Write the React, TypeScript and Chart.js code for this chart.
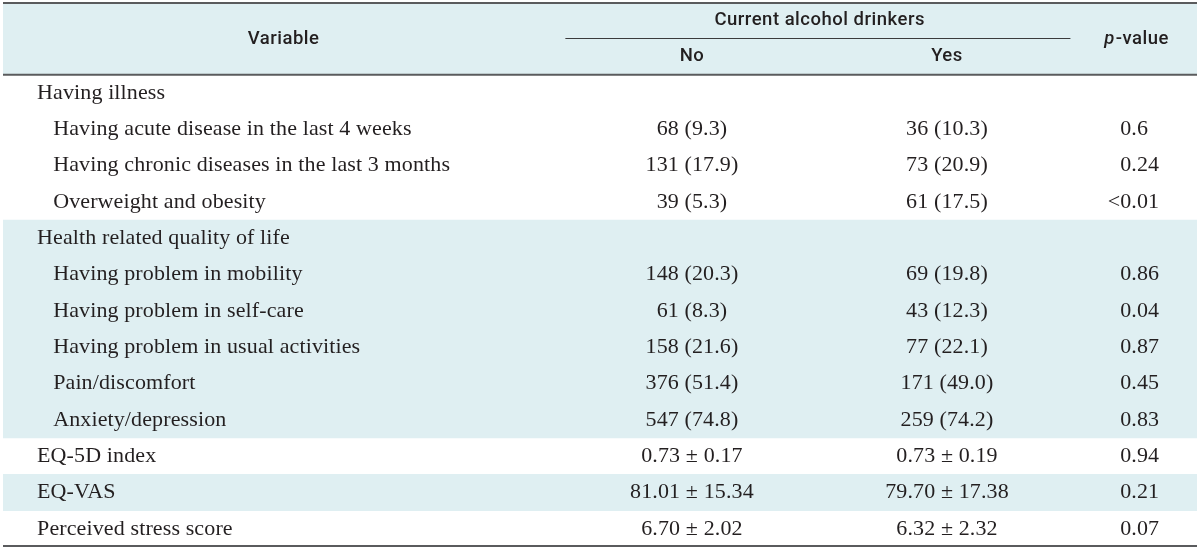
import { useEffect, useRef } from "react";
import { Chart, registerables } from "chart.js";

Chart.register(...registerables);

// ---- Data ----
const variables = [
  "Having illness",
  "Having acute disease in the last 4 weeks",
  "Having chronic diseases in the last 3 months",
  "Overweight and obesity",
  "Health related quality of life",
  "Having problem in mobility",
  "Having problem in self-care",
  "Having problem in usual activities",
  "Pain/discomfort",
  "Anxiety/depression",
  "EQ-5D index",
  "EQ-VAS",
  "Perceived stress score",
];
const levels = [0, 1, 1, 1, 0, 1, 1, 1, 1, 1, 0, 0, 0];
const noValues = [
  "", "68 (9.3)", "131 (17.9)", "39 (5.3)",
  "", "148 (20.3)", "61 (8.3)", "158 (21.6)", "376 (51.4)", "547 (74.8)",
  "0.73 ± 0.17", "81.01 ± 15.34", "6.70 ± 2.02",
];
const yesValues = [
  "", "36 (10.3)", "73 (20.9)", "61 (17.5)",
  "", "69 (19.8)", "43 (12.3)", "77 (22.1)", "171 (49.0)", "259 (74.2)",
  "0.73 ± 0.19", "79.70 ± 17.38", "6.32 ± 2.32",
];
const pValues = [
  "", "0.6", "0.24", "<0.01",
  "", "0.86", "0.04", "0.87", "0.45", "0.83",
  "0.94", "0.21", "0.07",
];
const shadedRows = [false, false, false, false, true, true, true, true, true, true, false, true, false];
const headerLabels = ["header-top", "header-bottom"];
const headerVariable = "Variable";
const headerGroup = "Current alcohol drinkers";
const headerNo = "No";
const headerYes = "Yes";
const headerPItalic = "p";
const headerPRest = "-value";

// ---- Layout (x in percent of table width) ----
const COL = {
  varCenter: 23.5,
  varLeft: 2.85,
  varIndent: 4.2,
  no: 57.7,
  yes: 79.06,
  groupCenter: 68.4,
  groupLineFrom: 47.1,
  groupLineTo: 89.4,
  pDecimal: 94.5,
  pHeader: 94.9,
};
const BAND_COLOR = "#dfeff2";
const TEXT_COLOR = "#231f20";
const RULE_COLOR = "#5a5b5d";
const BODY_FONT = '22px "Liberation Serif", "DejaVu Serif", serif';
const BODY_SPACING = "0.12px";
const HEAD_FONT = '500 18.5px Roboto, "Liberation Sans", sans-serif';
const HEAD_FONT_ITALIC = 'italic 500 18.5px Roboto, "Liberation Sans", sans-serif';
const HEAD_SPACING = "0.5px";

const rowKeys = [...headerLabels, ...variables];
const bandData = [
  ...headerLabels.map(() => [0, 100]),
  ...shadedRows.map((s) => (s ? [0, 100] : null)),
];

const tablePlugin = {
  id: "tableText",
  afterDatasetsDraw(chart: any) {
    const { ctx, chartArea, scales } = chart;
    const x = scales.x;
    const y = scales.y;
    const rowH = y.getPixelForValue(1) - y.getPixelForValue(0);
    const cy = (i: number) => y.getPixelForValue(i);
    ctx.save();
    ctx.fillStyle = TEXT_COLOR;
    ctx.textBaseline = "middle";

    // header
    (ctx as any).letterSpacing = HEAD_SPACING;
    ctx.font = HEAD_FONT;
    ctx.textAlign = "center";
    const headMid = (cy(0) + cy(1)) / 2;
    ctx.fillText(headerVariable, x.getPixelForValue(COL.varCenter), headMid + 1);
    ctx.fillText(headerGroup, x.getPixelForValue(COL.groupCenter), cy(0));
    ctx.fillText(headerNo, x.getPixelForValue(COL.no), cy(1));
    ctx.fillText(headerYes, x.getPixelForValue(COL.yes), cy(1));
    // p-value
    ctx.font = HEAD_FONT_ITALIC;
    const wP = ctx.measureText(headerPItalic).width;
    ctx.font = HEAD_FONT;
    const wR = ctx.measureText(headerPRest).width;
    const pStart = x.getPixelForValue(COL.pHeader) - (wP + wR) / 2;
    ctx.textAlign = "left";
    ctx.font = HEAD_FONT_ITALIC;
    ctx.fillText(headerPItalic, pStart, headMid + 1);
    ctx.font = HEAD_FONT;
    ctx.fillText(headerPRest, pStart + wP + 1, headMid + 1);

    // rules
    ctx.strokeStyle = RULE_COLOR;
    ctx.lineWidth = 2;
    const hline = (yy: number, x0: number, x1: number) => {
      ctx.beginPath();
      ctx.moveTo(x0, yy);
      ctx.lineTo(x1, yy);
      ctx.stroke();
    };
    hline(chartArea.top + 1, chartArea.left, chartArea.right);
    hline(cy(1) + rowH / 2, chartArea.left, chartArea.right);
    hline(chartArea.bottom - 1, chartArea.left, chartArea.right);
    ctx.lineWidth = 1;
    ctx.strokeStyle = "#3b3b3d";
    hline(
      Math.round(headMid) + 0.5,
      x.getPixelForValue(COL.groupLineFrom),
      x.getPixelForValue(COL.groupLineTo)
    );

    // body
    (ctx as any).letterSpacing = BODY_SPACING;
    ctx.font = BODY_FONT;
    variables.forEach((label, i) => {
      const yy = cy(i + 2);
      ctx.textAlign = "left";
      const lx = x.getPixelForValue(levels[i] ? COL.varIndent : COL.varLeft);
      ctx.fillText(label, lx, yy);
      ctx.textAlign = "center";
      if (noValues[i]) ctx.fillText(noValues[i], x.getPixelForValue(COL.no), yy);
      if (yesValues[i]) ctx.fillText(yesValues[i], x.getPixelForValue(COL.yes), yy);
      const p = pValues[i];
      if (p) {
        ctx.textAlign = "left";
        const dot = p.indexOf(".");
        const pre = dot >= 0 ? p.slice(0, dot) : p;
        ctx.fillText(p, x.getPixelForValue(COL.pDecimal) - ctx.measureText(pre).width, yy);
      }
    });
    ctx.restore();
  },
};

export default function App() {
  const ref = useRef<HTMLCanvasElement | null>(null);
  useEffect(() => {
    document.body.style.margin = "0";
    const canvas = ref.current;
    if (!canvas) return;
    const chart = new Chart(canvas, {
      type: "bar",
      data: {
        labels: rowKeys,
        datasets: [
          {
            data: bandData as any,
            backgroundColor: BAND_COLOR,
            borderWidth: 0,
            barPercentage: 1,
            categoryPercentage: 1,
          },
        ],
      },
      options: {
        indexAxis: "y",
        responsive: false,
        animation: false,
        layout: { padding: { left: 3, right: 3, top: 2, bottom: 2 } },
        scales: {
          x: { type: "linear", min: 0, max: 100, display: false },
          y: { type: "category", display: false, offset: true },
        },
        plugins: { legend: { display: false }, tooltip: { enabled: false } },
      },
      plugins: [tablePlugin],
    });
    return () => chart.destroy();
  }, []);
  return (
    <canvas
      ref={ref}
      width={1200}
      height={549}
      style={{ display: "block", width: 1200, height: 549, background: "#ffffff" }}
    />
  );
}
